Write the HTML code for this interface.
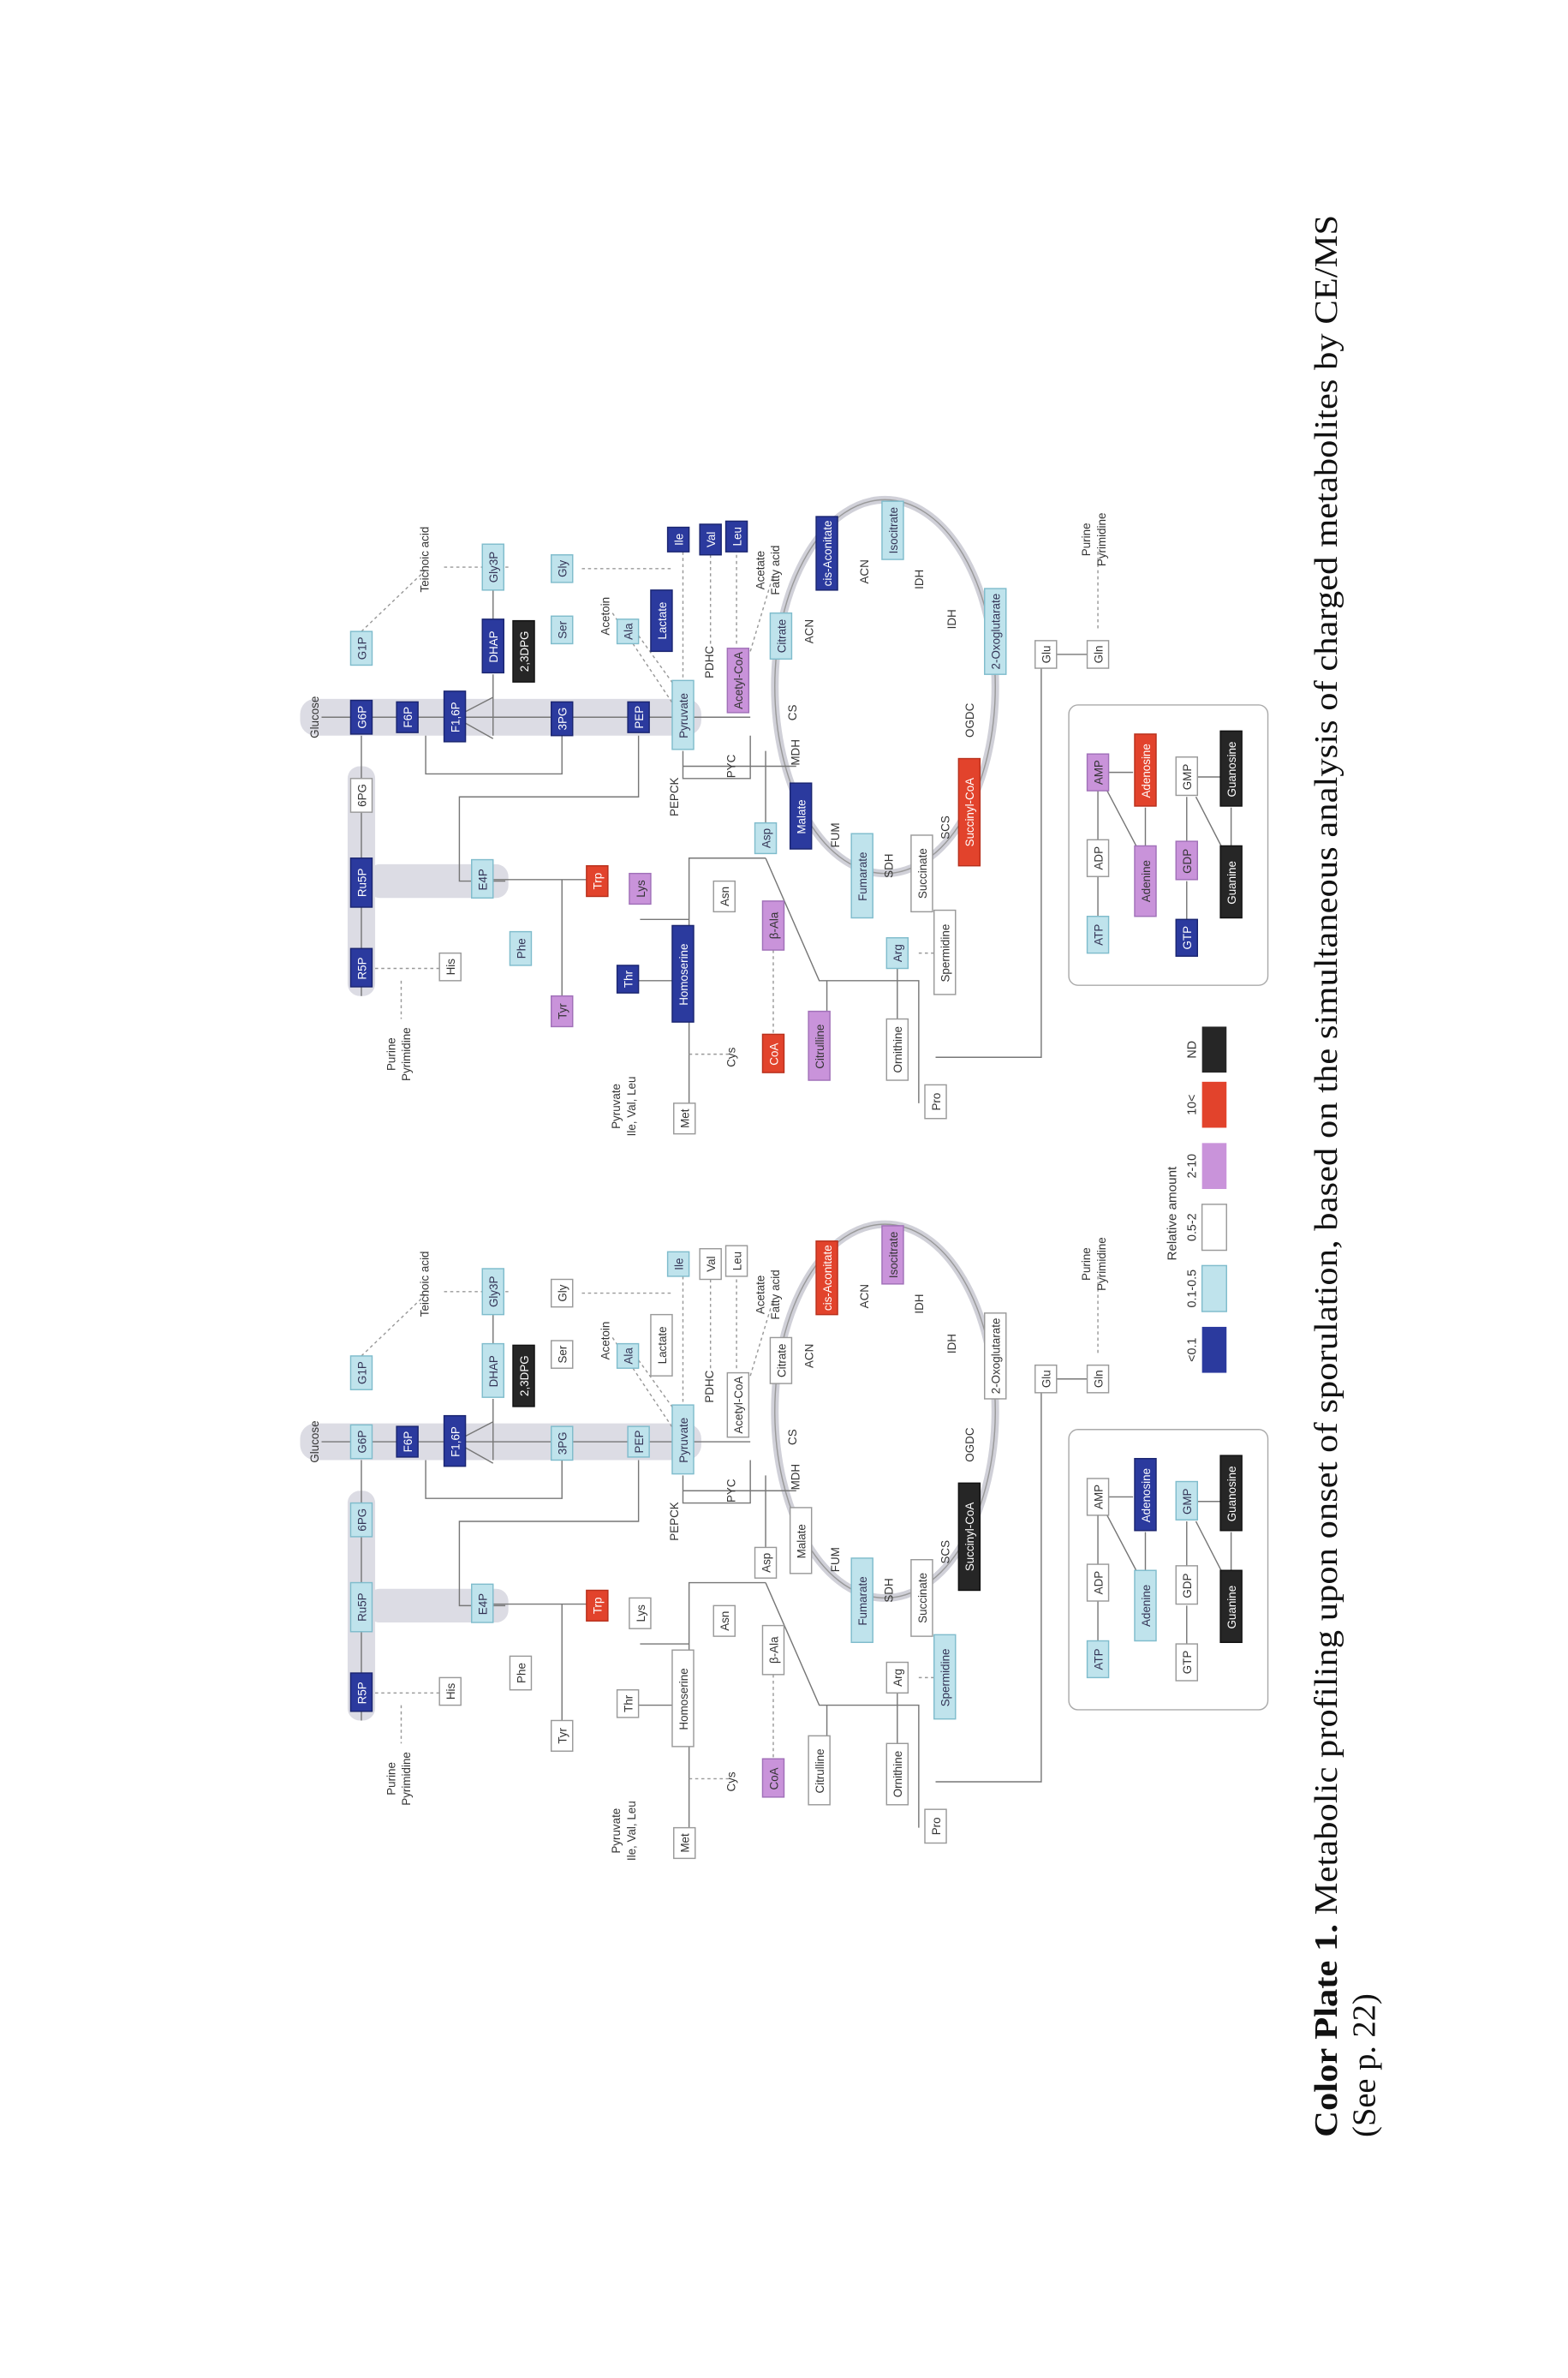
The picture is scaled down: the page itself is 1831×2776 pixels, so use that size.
<!DOCTYPE html>
<html><head><meta charset="utf-8"><style>
html,body{margin:0;padding:0;background:#fff}
svg{display:block}
text{font-family:"Liberation Sans",sans-serif}
.b rect{stroke-width:0.8}
.b text{font-size:7.5px;text-anchor:middle}
.B rect{fill:#2b3a9e;stroke:#1a2570}.B text{fill:#fff}
.L rect{fill:#bfe3ec;stroke:#7fbccc}.L text{fill:#335}
.W rect{fill:#fff;stroke:#999}.W text{fill:#333}
.P rect{fill:#c993da;stroke:#a070b8}.P text{fill:#333}
.R rect{fill:#e2432c;stroke:#b8301c}.R text{fill:#fff}
.K rect{fill:#262626;stroke:#111}.K text{fill:#fff}
.lab{font-size:7.5px;fill:#333;text-anchor:middle}
.ln{stroke:#777;stroke-width:0.8;fill:none}
.dl{stroke:#999;stroke-width:0.8;fill:none;stroke-dasharray:2 2}
.band{fill:#dcdce4}
</style></head><body>
<svg width="1831" height="2776" viewBox="0 0 1024 1552" xmlns="http://www.w3.org/2000/svg">
<defs>
<g id="skel">
<rect class="band" x="196" y="456" width="262" height="24" rx="10"/>
<rect class="band" x="227" y="500" width="18" height="150" rx="8"/>
<rect class="band" x="240" y="564" width="92" height="22" rx="8"/>
<ellipse cx="578" cy="448" rx="72" ry="122" fill="none" stroke="#d0d0d8" stroke-width="5"/>
<ellipse cx="578" cy="448" rx="72" ry="122" fill="none" stroke="#999" stroke-width="0.8"/>
<path class="ln" d="M210 468H490 M236 480V650 M322 440V480 M297 468L322 455 M297 468L322 482 M367 480V505H278V480 M417 480V520H300V575H330 M446 490V508H490V480 M500 490V540 M446 500H520 M500 560H450V740 M500 560L535 640H600V720 M586 632V665 M611 690H680V430 M315 574H390 M367 574V660 M450 600H418 M446 640H410 M540 640V660 M236 434V412 M322 385V405 M367 420V405 M683 427H717"/>
<path class="dl" d="M245 632H294 M262 640V665 M332 370H290 M380 371H440 M446 360V445 M464 362V420 M481 362V420 M505 620V676 M600 622H617 M450 688H478 M236 412L280 370 M410 405L446 455 M400 400L440 460 M490 425L505 375 M717 410V360"/>
<g class="lab">
<text transform="translate(208,468) rotate(-90)">Glucose</text>
<text transform="translate(280,365) rotate(-90)">Teichoic acid</text>
<text transform="translate(258,688) rotate(-90)">Purine</text>
<text transform="translate(268,688) rotate(-90)">Pyrimidine</text>
<text transform="translate(398,402) rotate(-90)">Acetoin</text>
<text transform="translate(466,432) rotate(-90)">PDHC</text>
<text transform="translate(499,372) rotate(-90)">Acetate</text>
<text transform="translate(509,372) rotate(-90)">Fatty acid</text>
<text transform="translate(531,412) rotate(-90)">ACN</text>
<text transform="translate(567,373) rotate(-90)">ACN</text>
<text transform="translate(603,378) rotate(-90)">IDH</text>
<text transform="translate(624,404) rotate(-90)">IDH</text>
<text transform="translate(520,465) rotate(-90)">CS</text>
<text transform="translate(522,491) rotate(-90)">MDH</text>
<text transform="translate(480,500) rotate(-90)">PYC</text>
<text transform="translate(443,520) rotate(-90)">PEPCK</text>
<text transform="translate(548,545) rotate(-90)">FUM</text>
<text transform="translate(583,565) rotate(-90)">SDH</text>
<text transform="translate(620,540) rotate(-90)">SCS</text>
<text transform="translate(636,470) rotate(-90)">OGDC</text>
<text transform="translate(712,352) rotate(-90)">Purine</text>
<text transform="translate(722,352) rotate(-90)">Pyrimidine</text>
<text transform="translate(405,722) rotate(-90)">Pyruvate</text>
<text transform="translate(415,722) rotate(-90)">Ile, Val, Leu</text>
<text transform="translate(480,690) rotate(-90)">Cys</text>
</g>
<rect x="698" y="460" width="130" height="183" rx="6" fill="none" stroke="#aaa" stroke-width="0.8"/>
<path class="ln" d="M717 516V548 M717 572V598 M723 516L742 552 M717 504H740 M748 527V552 M775 520V550 M775 575V600 M781 520L798 553 M775 507H798 M804 527V553"/>
</g>
</defs>

<use href="#skel"/>
<g>
<g class="b B" transform="translate(236,468) rotate(-90)"><rect x="-11" y="-7" width="22" height="14"/><text y="3">G6P</text></g>
<g class="b L" transform="translate(236,423) rotate(-90)"><rect x="-11" y="-7" width="22" height="14"/><text y="3">G1P</text></g>
<g class="b W" transform="translate(236,519) rotate(-90)"><rect x="-11" y="-7" width="22" height="14"/><text y="3">6PG</text></g>
<g class="b B" transform="translate(236,576) rotate(-90)"><rect x="-16" y="-7" width="32" height="14"/><text y="3">Ru5P</text></g>
<g class="b B" transform="translate(236,632) rotate(-90)"><rect x="-12" y="-7" width="25" height="14"/><text y="3">R5P</text></g>
<g class="b B" transform="translate(266,468) rotate(-90)"><rect x="-10" y="-7" width="20" height="14"/><text y="3">F6P</text></g>
<g class="b B" transform="translate(297,468) rotate(-90)"><rect x="-16" y="-7" width="33" height="14"/><text y="3">F1,6P</text></g>
<g class="b B" transform="translate(322,422) rotate(-90)"><rect x="-17" y="-7" width="35" height="14"/><text y="3">DHAP</text></g>
<g class="b L" transform="translate(322,370) rotate(-90)"><rect x="-15" y="-7" width="30" height="14"/><text y="3">Gly3P</text></g>
<g class="b K" transform="translate(342,425) rotate(-90)"><rect x="-20" y="-7" width="40" height="14"/><text y="3">2,3DPG</text></g>
<g class="b B" transform="translate(367,469) rotate(-90)"><rect x="-11" y="-7" width="22" height="14"/><text y="3">3PG</text></g>
<g class="b L" transform="translate(367,411) rotate(-90)"><rect x="-9" y="-7" width="18" height="14"/><text y="3">Ser</text></g>
<g class="b L" transform="translate(367,371) rotate(-90)"><rect x="-9" y="-7" width="18" height="14"/><text y="3">Gly</text></g>
<g class="b B" transform="translate(417,468) rotate(-90)"><rect x="-10" y="-7" width="20" height="14"/><text y="3">PEP</text></g>
<g class="b L" transform="translate(446,467) rotate(-90)"><rect x="-22" y="-7" width="45" height="14"/><text y="3">Pyruvate</text></g>
<g class="b L" transform="translate(410,412) rotate(-90)"><rect x="-8" y="-7" width="16" height="14"/><text y="3">Ala</text></g>
<g class="b B" transform="translate(432,405) rotate(-90)"><rect x="-20" y="-7" width="40" height="14"/><text y="3">Lactate</text></g>
<g class="b B" transform="translate(443,352) rotate(-90)"><rect x="-8" y="-7" width="16" height="14"/><text y="3">Ile</text></g>
<g class="b B" transform="translate(464,352) rotate(-90)"><rect x="-10" y="-7" width="20" height="14"/><text y="3">Val</text></g>
<g class="b B" transform="translate(481,350) rotate(-90)"><rect x="-10" y="-7" width="20" height="14"/><text y="3">Leu</text></g>
<g class="b P" transform="translate(482,444) rotate(-90)"><rect x="-21" y="-7" width="42" height="14"/><text y="3">Acetyl-CoA</text></g>
<g class="b L" transform="translate(510,415) rotate(-90)"><rect x="-15" y="-7" width="30" height="14"/><text y="3">Citrate</text></g>
<g class="b B" transform="translate(540,361) rotate(-90)"><rect x="-24" y="-7" width="48" height="14"/><text y="3">cis-Aconitate</text></g>
<g class="b L" transform="translate(583,346) rotate(-90)"><rect x="-19" y="-7" width="38" height="14"/><text y="3">Isocitrate</text></g>
<g class="b L" transform="translate(650,412) rotate(-90)"><rect x="-28" y="-7" width="56" height="14"/><text y="3">2-Oxoglutarate</text></g>
<g class="b W" transform="translate(683,427) rotate(-90)"><rect x="-9" y="-7" width="18" height="14"/><text y="3">Glu</text></g>
<g class="b W" transform="translate(717,427) rotate(-90)"><rect x="-9" y="-7" width="18" height="14"/><text y="3">Gln</text></g>
<g class="b R" transform="translate(633,530) rotate(-90)"><rect x="-35" y="-7" width="70" height="14"/><text y="3">Succinyl-CoA</text></g>
<g class="b W" transform="translate(602,570) rotate(-90)"><rect x="-25" y="-7" width="50" height="14"/><text y="3">Succinate</text></g>
<g class="b L" transform="translate(563,572) rotate(-90)"><rect x="-27" y="-7" width="55" height="14"/><text y="3">Fumarate</text></g>
<g class="b B" transform="translate(523,533) rotate(-90)"><rect x="-21" y="-7" width="43" height="14"/><text y="3">Malate</text></g>
<g class="b L" transform="translate(500,547) rotate(-90)"><rect x="-10" y="-7" width="20" height="14"/><text y="3">Asp</text></g>
<g class="b L" transform="translate(315,574) rotate(-90)"><rect x="-12" y="-7" width="25" height="14"/><text y="3">E4P</text></g>
<g class="b R" transform="translate(390,575) rotate(-90)"><rect x="-10" y="-7" width="20" height="14"/><text y="3">Trp</text></g>
<g class="b P" transform="translate(418,580) rotate(-90)"><rect x="-10" y="-7" width="20" height="14"/><text y="3">Lys</text></g>
<g class="b L" transform="translate(340,619) rotate(-90)"><rect x="-11" y="-7" width="22" height="14"/><text y="3">Phe</text></g>
<g class="b P" transform="translate(367,660) rotate(-90)"><rect x="-10" y="-7" width="20" height="14"/><text y="3">Tyr</text></g>
<g class="b W" transform="translate(294,631) rotate(-90)"><rect x="-9" y="-7" width="18" height="14"/><text y="3">His</text></g>
<g class="b B" transform="translate(410,639) rotate(-90)"><rect x="-9" y="-7" width="18" height="14"/><text y="3">Thr</text></g>
<g class="b B" transform="translate(446,636) rotate(-90)"><rect x="-31" y="-7" width="63" height="14"/><text y="3">Homoserine</text></g>
<g class="b W" transform="translate(473,585) rotate(-90)"><rect x="-10" y="-7" width="20" height="14"/><text y="3">Asn</text></g>
<g class="b P" transform="translate(505,604) rotate(-90)"><rect x="-16" y="-7" width="32" height="14"/><text y="3">β-Ala</text></g>
<g class="b R" transform="translate(505,688) rotate(-90)"><rect x="-12" y="-7" width="25" height="14"/><text y="3">CoA</text></g>
<g class="b P" transform="translate(535,683) rotate(-90)"><rect x="-22" y="-7" width="45" height="14"/><text y="3">Citrulline</text></g>
<g class="b L" transform="translate(586,622) rotate(-90)"><rect x="-10" y="-7" width="20" height="14"/><text y="3">Arg</text></g>
<g class="b W" transform="translate(617,622) rotate(-90)"><rect x="-27" y="-7" width="55" height="14"/><text y="3">Spermidine</text></g>
<g class="b W" transform="translate(586,685) rotate(-90)"><rect x="-20" y="-7" width="40" height="14"/><text y="3">Ornithine</text></g>
<g class="b W" transform="translate(611,719) rotate(-90)"><rect x="-11" y="-7" width="22" height="14"/><text y="3">Pro</text></g>
<g class="b W" transform="translate(447,730) rotate(-90)"><rect x="-10" y="-7" width="20" height="14"/><text y="3">Met</text></g>
<g class="b L" transform="translate(717,610) rotate(-90)"><rect x="-12" y="-7" width="24" height="14"/><text y="3">ATP</text></g>
<g class="b W" transform="translate(717,560) rotate(-90)"><rect x="-12" y="-7" width="24" height="14"/><text y="3">ADP</text></g>
<g class="b P" transform="translate(717,504) rotate(-90)"><rect x="-12" y="-7" width="24" height="14"/><text y="3">AMP</text></g>
<g class="b P" transform="translate(748,575) rotate(-90)"><rect x="-23" y="-7" width="46" height="14"/><text y="3">Adenine</text></g>
<g class="b R" transform="translate(748,503) rotate(-90)"><rect x="-23" y="-7" width="47" height="14"/><text y="3">Adenosine</text></g>
<g class="b B" transform="translate(775,612) rotate(-90)"><rect x="-12" y="-7" width="24" height="14"/><text y="3">GTP</text></g>
<g class="b P" transform="translate(775,562) rotate(-90)"><rect x="-12" y="-7" width="25" height="14"/><text y="3">GDP</text></g>
<g class="b W" transform="translate(775,507) rotate(-90)"><rect x="-12" y="-7" width="25" height="14"/><text y="3">GMP</text></g>
<g class="b K" transform="translate(804,576) rotate(-90)"><rect x="-23" y="-7" width="47" height="14"/><text y="3">Guanine</text></g>
<g class="b K" transform="translate(804,502) rotate(-90)"><rect x="-24" y="-7" width="49" height="14"/><text y="3">Guanosine</text></g>
</g>

<g transform="translate(0,473)">
<use href="#skel"/>
<g class="b L" transform="translate(236,468) rotate(-90)"><rect x="-11" y="-7" width="22" height="14"/><text y="3">G6P</text></g>
<g class="b L" transform="translate(236,423) rotate(-90)"><rect x="-11" y="-7" width="22" height="14"/><text y="3">G1P</text></g>
<g class="b L" transform="translate(236,519) rotate(-90)"><rect x="-11" y="-7" width="22" height="14"/><text y="3">6PG</text></g>
<g class="b L" transform="translate(236,576) rotate(-90)"><rect x="-16" y="-7" width="32" height="14"/><text y="3">Ru5P</text></g>
<g class="b B" transform="translate(236,632) rotate(-90)"><rect x="-12" y="-7" width="25" height="14"/><text y="3">R5P</text></g>
<g class="b B" transform="translate(266,468) rotate(-90)"><rect x="-10" y="-7" width="20" height="14"/><text y="3">F6P</text></g>
<g class="b B" transform="translate(297,468) rotate(-90)"><rect x="-16" y="-7" width="33" height="14"/><text y="3">F1,6P</text></g>
<g class="b L" transform="translate(322,422) rotate(-90)"><rect x="-17" y="-7" width="35" height="14"/><text y="3">DHAP</text></g>
<g class="b L" transform="translate(322,370) rotate(-90)"><rect x="-15" y="-7" width="30" height="14"/><text y="3">Gly3P</text></g>
<g class="b K" transform="translate(342,425) rotate(-90)"><rect x="-20" y="-7" width="40" height="14"/><text y="3">2,3DPG</text></g>
<g class="b L" transform="translate(367,469) rotate(-90)"><rect x="-11" y="-7" width="22" height="14"/><text y="3">3PG</text></g>
<g class="b W" transform="translate(367,411) rotate(-90)"><rect x="-9" y="-7" width="18" height="14"/><text y="3">Ser</text></g>
<g class="b W" transform="translate(367,371) rotate(-90)"><rect x="-9" y="-7" width="18" height="14"/><text y="3">Gly</text></g>
<g class="b L" transform="translate(417,468) rotate(-90)"><rect x="-10" y="-7" width="20" height="14"/><text y="3">PEP</text></g>
<g class="b L" transform="translate(446,467) rotate(-90)"><rect x="-22" y="-7" width="45" height="14"/><text y="3">Pyruvate</text></g>
<g class="b L" transform="translate(410,412) rotate(-90)"><rect x="-8" y="-7" width="16" height="14"/><text y="3">Ala</text></g>
<g class="b W" transform="translate(432,405) rotate(-90)"><rect x="-20" y="-7" width="40" height="14"/><text y="3">Lactate</text></g>
<g class="b L" transform="translate(443,352) rotate(-90)"><rect x="-8" y="-7" width="16" height="14"/><text y="3">Ile</text></g>
<g class="b W" transform="translate(464,352) rotate(-90)"><rect x="-10" y="-7" width="20" height="14"/><text y="3">Val</text></g>
<g class="b W" transform="translate(481,350) rotate(-90)"><rect x="-10" y="-7" width="20" height="14"/><text y="3">Leu</text></g>
<g class="b W" transform="translate(482,444) rotate(-90)"><rect x="-21" y="-7" width="42" height="14"/><text y="3">Acetyl-CoA</text></g>
<g class="b W" transform="translate(510,415) rotate(-90)"><rect x="-15" y="-7" width="30" height="14"/><text y="3">Citrate</text></g>
<g class="b R" transform="translate(540,361) rotate(-90)"><rect x="-24" y="-7" width="48" height="14"/><text y="3">cis-Aconitate</text></g>
<g class="b P" transform="translate(583,346) rotate(-90)"><rect x="-19" y="-7" width="38" height="14"/><text y="3">Isocitrate</text></g>
<g class="b W" transform="translate(650,412) rotate(-90)"><rect x="-28" y="-7" width="56" height="14"/><text y="3">2-Oxoglutarate</text></g>
<g class="b W" transform="translate(683,427) rotate(-90)"><rect x="-9" y="-7" width="18" height="14"/><text y="3">Glu</text></g>
<g class="b W" transform="translate(717,427) rotate(-90)"><rect x="-9" y="-7" width="18" height="14"/><text y="3">Gln</text></g>
<g class="b K" transform="translate(633,530) rotate(-90)"><rect x="-35" y="-7" width="70" height="14"/><text y="3">Succinyl-CoA</text></g>
<g class="b W" transform="translate(602,570) rotate(-90)"><rect x="-25" y="-7" width="50" height="14"/><text y="3">Succinate</text></g>
<g class="b L" transform="translate(563,572) rotate(-90)"><rect x="-27" y="-7" width="55" height="14"/><text y="3">Fumarate</text></g>
<g class="b W" transform="translate(523,533) rotate(-90)"><rect x="-21" y="-7" width="43" height="14"/><text y="3">Malate</text></g>
<g class="b W" transform="translate(500,547) rotate(-90)"><rect x="-10" y="-7" width="20" height="14"/><text y="3">Asp</text></g>
<g class="b L" transform="translate(315,574) rotate(-90)"><rect x="-12" y="-7" width="25" height="14"/><text y="3">E4P</text></g>
<g class="b R" transform="translate(390,575) rotate(-90)"><rect x="-10" y="-7" width="20" height="14"/><text y="3">Trp</text></g>
<g class="b W" transform="translate(418,580) rotate(-90)"><rect x="-10" y="-7" width="20" height="14"/><text y="3">Lys</text></g>
<g class="b W" transform="translate(340,619) rotate(-90)"><rect x="-11" y="-7" width="22" height="14"/><text y="3">Phe</text></g>
<g class="b W" transform="translate(367,660) rotate(-90)"><rect x="-10" y="-7" width="20" height="14"/><text y="3">Tyr</text></g>
<g class="b W" transform="translate(294,631) rotate(-90)"><rect x="-9" y="-7" width="18" height="14"/><text y="3">His</text></g>
<g class="b W" transform="translate(410,639) rotate(-90)"><rect x="-9" y="-7" width="18" height="14"/><text y="3">Thr</text></g>
<g class="b W" transform="translate(446,636) rotate(-90)"><rect x="-31" y="-7" width="63" height="14"/><text y="3">Homoserine</text></g>
<g class="b W" transform="translate(473,585) rotate(-90)"><rect x="-10" y="-7" width="20" height="14"/><text y="3">Asn</text></g>
<g class="b W" transform="translate(505,604) rotate(-90)"><rect x="-16" y="-7" width="32" height="14"/><text y="3">β-Ala</text></g>
<g class="b P" transform="translate(505,688) rotate(-90)"><rect x="-12" y="-7" width="25" height="14"/><text y="3">CoA</text></g>
<g class="b W" transform="translate(535,683) rotate(-90)"><rect x="-22" y="-7" width="45" height="14"/><text y="3">Citrulline</text></g>
<g class="b W" transform="translate(586,622) rotate(-90)"><rect x="-10" y="-7" width="20" height="14"/><text y="3">Arg</text></g>
<g class="b L" transform="translate(617,622) rotate(-90)"><rect x="-27" y="-7" width="55" height="14"/><text y="3">Spermidine</text></g>
<g class="b W" transform="translate(586,685) rotate(-90)"><rect x="-20" y="-7" width="40" height="14"/><text y="3">Ornithine</text></g>
<g class="b W" transform="translate(611,719) rotate(-90)"><rect x="-11" y="-7" width="22" height="14"/><text y="3">Pro</text></g>
<g class="b W" transform="translate(447,730) rotate(-90)"><rect x="-10" y="-7" width="20" height="14"/><text y="3">Met</text></g>
<g class="b L" transform="translate(717,610) rotate(-90)"><rect x="-12" y="-7" width="24" height="14"/><text y="3">ATP</text></g>
<g class="b W" transform="translate(717,560) rotate(-90)"><rect x="-12" y="-7" width="24" height="14"/><text y="3">ADP</text></g>
<g class="b W" transform="translate(717,504) rotate(-90)"><rect x="-12" y="-7" width="24" height="14"/><text y="3">AMP</text></g>
<g class="b L" transform="translate(748,575) rotate(-90)"><rect x="-23" y="-7" width="46" height="14"/><text y="3">Adenine</text></g>
<g class="b B" transform="translate(748,503) rotate(-90)"><rect x="-23" y="-7" width="47" height="14"/><text y="3">Adenosine</text></g>
<g class="b W" transform="translate(775,612) rotate(-90)"><rect x="-12" y="-7" width="24" height="14"/><text y="3">GTP</text></g>
<g class="b W" transform="translate(775,562) rotate(-90)"><rect x="-12" y="-7" width="25" height="14"/><text y="3">GDP</text></g>
<g class="b L" transform="translate(775,507) rotate(-90)"><rect x="-12" y="-7" width="25" height="14"/><text y="3">GMP</text></g>
<g class="b K" transform="translate(804,576) rotate(-90)"><rect x="-23" y="-7" width="47" height="14"/><text y="3">Guanine</text></g>
<g class="b K" transform="translate(804,502) rotate(-90)"><rect x="-24" y="-7" width="49" height="14"/><text y="3">Guanosine</text></g>
</g>

<g>
<text class="lab" transform="translate(768,792) rotate(-90)" style="font-size:8.5px">Relative amount</text>
<rect x="785" y="866" width="16" height="30" fill="#2b3a9e"/>
<rect x="785" y="826" width="16" height="30" fill="#bfe3ec" stroke="#7fbccc" stroke-width="0.8"/>
<rect x="785" y="786" width="16" height="30" fill="#fff" stroke="#999" stroke-width="0.8"/>
<rect x="785" y="746" width="16" height="30" fill="#c993da"/>
<rect x="785" y="706" width="16" height="30" fill="#e2432c"/>
<rect x="785" y="670" width="16" height="30" fill="#262626"/>
<g class="lab" style="font-size:8px">
<text transform="translate(781,881) rotate(-90)">&lt;0.1</text>
<text transform="translate(781,841) rotate(-90)">0.1-0.5</text>
<text transform="translate(781,801) rotate(-90)">0.5-2</text>
<text transform="translate(781,761) rotate(-90)">2-10</text>
<text transform="translate(781,721) rotate(-90)">10&lt;</text>
<text transform="translate(781,685) rotate(-90)">ND</text>
</g>
</g>

<text transform="translate(873,1395) rotate(-90)" style="font-family:'Liberation Serif',serif;font-size:21.5px;fill:#111" textLength="1255" lengthAdjust="spacingAndGlyphs"><tspan font-weight="bold">Color Plate 1.</tspan> Metabolic profiling upon onset of sporulation, based on the simultaneous analysis of charged metabolites by CE/MS</text>
<text transform="translate(898,1395) rotate(-90)" style="font-family:'Liberation Serif',serif;font-size:21.5px;fill:#111">(See p. 22)</text>
</svg>
</body></html>
